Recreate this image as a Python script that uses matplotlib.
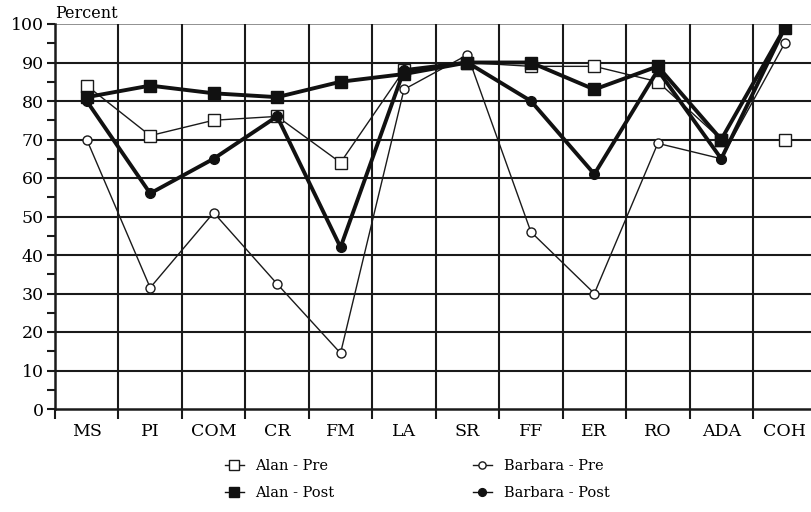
import matplotlib
matplotlib.use("Agg")
import matplotlib.pyplot as plt
from matplotlib.ticker import MultipleLocator, FixedLocator

plt.rcParams['font.family'] = ['DejaVu Serif']

# categories and scores
categories = ['MS', 'PI', 'COM', 'CR', 'FM', 'LA', 'SR', 'FF', 'ER', 'RO', 'ADA', 'COH']
alan_pre = [84, 71, 75, 76, 64, 88, 90, 89, 89, 85, 70]   # line stops at ADA
alan_pre_coh = 70                                          # lone marker at COH
alan_post = [81, 84, 82, 81, 85, 87, 90, 90, 83, 89, 70, 99]
barbara_pre = [70, 31.5, 51, 32.5, 14.5, 83, 92, 46, 30, 69, 65, 95]
barbara_post = [80, 56, 65, 76, 42, 88, 90, 80, 61, 88, 65, 99]

fig = plt.figure(figsize=(8.12, 5.12), dpi=100)
ax = fig.add_axes([55/812, 1-409/512, 1-55/812, (409-24)/512])

x = list(range(len(categories)))

# grid
for v in range(10, 100, 10):
    ax.axhline(v, color='#1a1a1a', lw=1.5, zorder=1)
ax.axhline(100, color='#888888', lw=1.3, zorder=1)
for b in range(len(categories) - 1):
    ax.axvline(b + 0.5, color='#1a1a1a', lw=1.5, zorder=1)

ax.plot(x[:len(alan_pre)], alan_pre, color='#1a1a1a', lw=1.0, marker='s', ms=8.5,
        mfc='white', mec='#1a1a1a', mew=1.0, zorder=3, label='Alan - Pre')
ax.plot(x[-1], alan_pre_coh, ls='none', marker='s', ms=8.5, mfc='white',
        mec='#1a1a1a', mew=1.0, zorder=3)
ax.plot(x, barbara_pre, color='#1a1a1a', lw=1.0, marker='o', ms=6.5,
        mfc='white', mec='#1a1a1a', mew=1.0, zorder=3, label='Barbara - Pre')
ax.plot(x, alan_post, color='#111111', lw=2.8, marker='s', ms=8.5,
        mfc='#111111', mec='#111111', zorder=4, label='Alan - Post')
ax.plot(x, barbara_post, color='#111111', lw=2.8, marker='o', ms=7,
        mfc='#111111', mec='#111111', zorder=4, label='Barbara - Post')

ax.set_ylim(0, 100)
ax.set_xlim(-0.5, 11.43)
ax.yaxis.set_major_locator(MultipleLocator(10))
ax.yaxis.set_minor_locator(MultipleLocator(5))
ax.set_xticks(x)
ax.set_xticklabels(categories)
ax.xaxis.set_minor_locator(FixedLocator([b + 0.5 for b in range(-1, 11)]))
ax.tick_params(axis='y', which='both', length=6, width=1.5, color='#1a1a1a',
               labelsize=12.5, pad=2)
ax.tick_params(axis='x', which='major', length=0, labelsize=12.5, pad=10)
ax.tick_params(axis='x', which='minor', length=7, width=1.5, color='#1a1a1a')

for s in ['top', 'right']:
    ax.spines[s].set_visible(False)
ax.spines['left'].set_linewidth(1.8)
ax.spines['bottom'].set_linewidth(1.8)
ax.spines['left'].set_color('#1a1a1a')
ax.spines['bottom'].set_color('#1a1a1a')

fig.text(55/812, 1-14/512, 'Percent', ha='left', va='center', fontsize=11.5)

handles, labels = ax.get_legend_handles_labels()
order = [0, 2, 1, 3]
leg = fig.legend([handles[i] for i in order], [labels[i] for i in order],
                 ncol=2, frameon=False, loc='center',
                 bbox_to_anchor=(417/812, 1-479.5/512),
                 fontsize=10.5, handlelength=1.3, columnspacing=9.5, labelspacing=0.85,
                 handletextpad=0.8, markerscale=0.8)
for h in leg.legend_handles:
    h.set_linewidth(1.0)

fig.savefig('out.png', dpi=100)
